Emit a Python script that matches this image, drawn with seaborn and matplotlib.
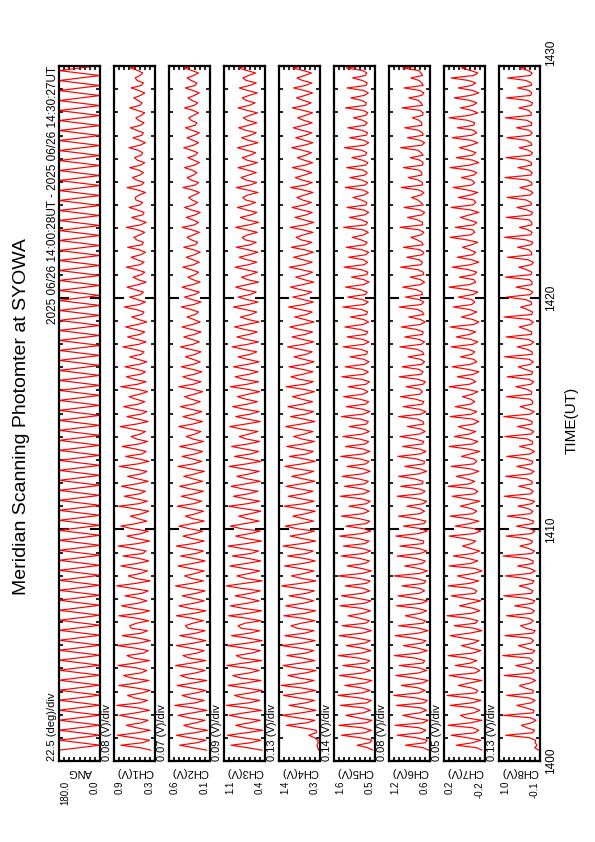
import numpy as np
import pandas as pd
import seaborn as sns
import matplotlib.pyplot as plt
from matplotlib.ticker import FixedLocator, MultipleLocator

# Record window (minutes after 14:00 UT)
t_start = 28 / 60
t_end = 30 + 27 / 60

title = 'Meridian Scanning Photomter at SYOWA'
subtitle = '2025 06/26 14:00:28UT - 2025 06/26 14:30:27UT'
time_ticks = [0, 10, 20, 30]
time_labels = ['1400', '1410', '1420', '1430']

names = ['ANG', 'CH1(V)', 'CH2(V)', 'CH3(V)', 'CH4(V)', 'CH5(V)', 'CH6(V)', 'CH7(V)', 'CH8(V)']
vmax = [180.0, 0.9, 0.6, 1.1, 1.4, 1.6, 1.2, 0.2, 1.0]
vmin = [0.0, 0.3, 0.1, 0.4, 0.3, 0.5, 0.6, -0.2, -0.1]
vmax_labels = ['180.0', '0.9', '0.6', '1.1', '1.4', '1.6', '1.2', '0.2', '1.0']
vmin_labels = ['0.0', '0.3', '0.1', '0.4', '0.3', '0.5', '0.6', '-0.2', '-0.1']
div_labels = ['22.5 (deg)/div', '0.08 (V)/div', '0.07 (V)/div', '0.09 (V)/div', '0.13 (V)/div',
              '0.14 (V)/div', '0.08 (V)/div', '0.05 (V)/div', '0.13 (V)/div']

# scan angle (deg) at each turn of the mirror
ang = [180, 0, 180, 0, 180, 0, 180, 0, 180, 0, 180, 0, 180, 0, 180, 0, 180, 0, 180, 0,
       180, 0, 180, 0, 180, 0, 180, 0, 180, 0, 180, 0, 180, 0, 180, 0, 180, 0, 180, 0,
       180, 0, 180, 0, 180, 0, 180, 0, 180, 0, 180, 0, 180, 0, 180, 0, 180, 0, 180, 0,
       180, 0, 180, 0, 180, 0, 180, 0, 180, 0, 180, 0, 180, 0, 180, 0, 180, 0, 180, 0,
       180, 0, 180, 0, 180, 0, 180, 0, 180, 0, 180, 0, 180, 0, 180, 0, 180, 0, 180, 0,
       180, 0, 180, 0, 180, 0, 180, 0, 180, 0, 180, 0, 180, 0, 180, 0, 180, 0, 180, 0,
       180, 0, 180, 0, 180, 0, 180, 0, 180, 0, 180, 0, 180, 0, 180, 0, 180, 0, 180, 0]

# channel readings in units of 0.01 V, four samples per scan
ch1 = [36, 52, 80, 48, 38, 61, 85, 55, 37, 57, 72, 50, 40, 63, 82, 58, 38, 55, 86, 52,
       41, 60, 70, 49, 37, 58, 83, 56, 39, 64, 76, 51, 42, 56, 84, 59, 38, 62, 71, 47,
       40, 59, 85, 54, 37, 54, 78, 50, 41, 65, 67, 57, 39, 57, 83, 52, 38, 61, 79, 55,
       42, 55, 74, 49, 40, 63, 86, 58, 37, 58, 69, 51, 41, 60, 80, 56, 39, 53, 77, 48,
       43, 62, 84, 55, 38, 57, 71, 50, 40, 64, 80, 58, 42, 55, 66, 49, 39, 60, 83, 54,
       41, 58, 75, 52, 44, 62, 79, 56, 40, 56, 70, 50, 42, 61, 82, 55, 39, 54, 73, 49,
       43, 59, 78, 53, 41, 57, 65, 51, 44, 63, 81, 57, 40, 55, 71, 50, 42, 60, 76, 54,
       45, 58, 68, 52, 41, 56, 80, 55, 43, 61, 72, 51, 44, 57, 74, 53, 42, 55, 67, 50,
       46, 60, 77, 54, 43, 57, 70, 52, 45, 59, 73, 55, 42, 54, 64, 49, 46, 58, 75, 53,
       44, 56, 67, 51, 47, 59, 71, 54, 43, 55, 62, 50, 45, 57, 72, 52, 46, 56, 65, 51,
       44, 53, 70, 49, 47, 57, 61, 52, 45, 55, 72, 51, 43, 54, 64, 48, 46, 56, 68, 52,
       48, 58, 59, 53, 44, 55, 71, 50, 46, 57, 63, 52, 47, 54, 67, 51, 45, 56, 60, 50,
       48, 55, 68, 52, 44, 53, 62, 49, 47, 57, 66, 51, 46, 54, 58, 50, 45, 56, 67, 52,
       49, 55, 61, 51, 45, 54, 65, 50, 47, 56, 59, 52, 48, 55, 66, 51, 46, 53, 62, 49]
ch2 = [14, 30, 47, 26, 15, 35, 51, 29, 13, 32, 42, 27, 16, 36, 49, 31, 14, 31, 53, 28,
       17, 34, 44, 27, 15, 33, 50, 30, 14, 37, 46, 28, 16, 31, 52, 32, 15, 35, 43, 26,
       17, 34, 51, 30, 15, 30, 47, 27, 16, 37, 40, 31, 18, 32, 51, 29, 15, 35, 48, 30,
       17, 31, 44, 27, 16, 36, 52, 32, 18, 33, 41, 28, 17, 34, 49, 31, 16, 30, 46, 27,
       18, 35, 51, 30, 17, 32, 43, 28, 19, 36, 48, 32, 17, 31, 40, 27, 18, 34, 50, 30,
       20, 33, 45, 29, 18, 35, 47, 31, 19, 31, 42, 28, 17, 34, 49, 30, 20, 32, 44, 28,
       19, 33, 47, 30, 18, 31, 39, 28, 21, 35, 48, 31, 19, 32, 43, 29, 20, 34, 46, 30,
       22, 33, 41, 29, 19, 31, 48, 30, 21, 34, 43, 29, 20, 32, 45, 30, 22, 31, 40, 28,
       21, 34, 46, 31, 23, 32, 42, 29, 21, 33, 44, 31, 22, 30, 38, 28, 24, 33, 45, 30,
       21, 32, 41, 29, 23, 34, 44, 31, 22, 31, 37, 28, 24, 33, 43, 30, 23, 31, 39, 29,
       22, 30, 42, 28, 25, 33, 38, 30, 23, 32, 44, 29, 24, 31, 39, 28, 22, 33, 41, 30,
       25, 32, 36, 29, 23, 31, 43, 28, 24, 33, 38, 30, 26, 32, 41, 29, 23, 30, 37, 28,
       25, 33, 42, 30, 24, 31, 38, 29, 23, 32, 40, 28, 26, 33, 36, 30, 24, 31, 41, 29,
       25, 32, 37, 29, 23, 31, 40, 28, 26, 33, 38, 30, 24, 32, 41, 29, 25, 31, 36, 28]
ch3 = [45, 70, 98, 64, 47, 78, 104, 72, 44, 73, 90, 66, 48, 80, 101, 75, 46, 72, 106, 68,
       49, 77, 92, 65, 45, 74, 103, 71, 47, 82, 95, 67, 50, 71, 105, 76, 46, 79, 89, 63,
       48, 75, 104, 70, 45, 69, 97, 66, 49, 81, 86, 74, 47, 72, 102, 68, 46, 78, 99, 71,
       50, 70, 91, 65, 48, 80, 106, 75, 45, 73, 88, 67, 49, 76, 100, 72, 47, 68, 96, 64,
       51, 79, 103, 71, 46, 72, 90, 66, 48, 81, 99, 74, 50, 70, 85, 65, 47, 76, 102, 70,
       49, 74, 94, 68, 52, 79, 98, 72, 48, 71, 88, 66, 50, 77, 101, 71, 47, 69, 92, 64,
       51, 75, 97, 69, 49, 72, 84, 67, 52, 80, 100, 73, 48, 70, 90, 65, 50, 76, 95, 70,
       53, 73, 87, 68, 49, 71, 99, 70, 51, 77, 91, 67, 52, 72, 94, 69, 50, 70, 86, 65,
       54, 76, 96, 70, 51, 72, 88, 67, 53, 75, 92, 71, 50, 69, 82, 64, 54, 74, 94, 69,
       52, 71, 86, 66, 55, 75, 90, 70, 51, 70, 80, 65, 53, 73, 91, 68, 54, 71, 84, 67,
       52, 69, 89, 65, 55, 74, 79, 69, 53, 71, 90, 67, 51, 70, 82, 64, 54, 72, 87, 68,
       56, 73, 78, 69, 52, 70, 89, 66, 54, 72, 81, 68, 55, 70, 86, 67, 53, 71, 79, 65,
       56, 72, 87, 68, 52, 69, 80, 65, 55, 73, 85, 68, 54, 70, 77, 66, 53, 71, 86, 67,
       57, 72, 79, 67, 53, 70, 84, 66, 55, 72, 78, 68, 56, 71, 85, 67, 54, 69, 80, 65]
ch4 = [34, 36, 38, 35, 36, 45, 60, 40, 40, 78, 120, 65, 44, 90, 131, 80, 41, 75, 113, 69,
       45, 88, 128, 76, 42, 80, 134, 72, 46, 86, 116, 70, 41, 93, 129, 81, 44, 76, 119, 68,
       47, 85, 132, 77, 43, 79, 124, 71, 46, 92, 108, 80, 44, 77, 127, 70, 42, 87, 122, 75,
       47, 74, 113, 67, 45, 91, 133, 82, 41, 80, 107, 72, 46, 84, 125, 76, 43, 72, 117, 66,
       48, 89, 129, 78, 42, 78, 110, 70, 45, 93, 123, 81, 47, 75, 103, 68, 43, 86, 126, 74,
       46, 82, 115, 73, 49, 87, 121, 79, 44, 76, 106, 69, 47, 90, 124, 78, 43, 73, 112, 66,
       48, 84, 119, 75, 45, 79, 101, 71, 49, 88, 122, 80, 44, 74, 109, 68, 47, 85, 116, 75,
       50, 80, 104, 72, 45, 76, 121, 70, 48, 86, 108, 76, 49, 78, 113, 71, 46, 74, 100, 67,
       51, 83, 117, 75, 47, 77, 105, 70, 50, 85, 111, 77, 46, 72, 98, 66, 51, 82, 114, 74,
       48, 75, 103, 69, 52, 84, 109, 76, 47, 73, 95, 67, 50, 80, 112, 73, 51, 76, 101, 70,
       48, 72, 107, 68, 52, 81, 94, 74, 49, 76, 110, 70, 47, 73, 97, 67, 51, 79, 105, 72,
       53, 77, 92, 71, 49, 74, 109, 69, 51, 78, 96, 72, 52, 75, 104, 70, 50, 73, 91, 68,
       53, 78, 106, 72, 49, 72, 95, 68, 52, 79, 102, 73, 51, 74, 90, 69, 50, 76, 104, 70,
       54, 75, 93, 70, 50, 73, 101, 69, 52, 77, 92, 71, 53, 75, 103, 70, 51, 72, 94, 68]
ch5 = [56, 70, 98, 64, 58, 90, 140, 78, 60, 84, 147, 74, 59, 96, 128, 82, 62, 80, 143, 72,
       60, 92, 149, 85, 63, 86, 131, 76, 59, 98, 145, 83, 62, 82, 136, 74, 64, 94, 148, 86,
       61, 85, 127, 77, 63, 99, 146, 84, 60, 83, 138, 75, 65, 91, 122, 82, 62, 87, 144, 78,
       61, 96, 140, 84, 64, 81, 130, 73, 63, 93, 149, 85, 60, 86, 125, 77, 65, 90, 141, 81,
       62, 84, 135, 76, 66, 95, 145, 86, 61, 82, 128, 74, 64, 92, 140, 83, 66, 80, 120, 73,
       63, 88, 143, 80, 65, 85, 132, 77, 68, 94, 138, 84, 63, 81, 125, 74, 66, 90, 142, 81,
       64, 83, 129, 76, 67, 92, 136, 83, 65, 80, 119, 73, 68, 89, 140, 81, 64, 84, 127, 75,
       67, 91, 134, 82, 69, 82, 122, 74, 65, 87, 139, 79, 68, 85, 130, 77, 66, 80, 117, 73,
       70, 88, 135, 80, 66, 83, 125, 75, 69, 90, 131, 82, 67, 81, 116, 73, 70, 86, 136, 79,
       68, 84, 123, 76, 71, 89, 129, 81, 66, 80, 113, 72, 69, 87, 133, 79, 70, 82, 121, 75,
       67, 85, 127, 77, 71, 88, 111, 80, 68, 82, 134, 75, 70, 86, 119, 78, 67, 81, 125, 74,
       72, 87, 109, 79, 68, 83, 130, 76, 70, 85, 117, 77, 71, 82, 126, 75, 69, 84, 112, 76,
       72, 86, 132, 78, 67, 81, 118, 74, 70, 85, 123, 77, 71, 83, 108, 75, 69, 82, 129, 76,
       73, 86, 115, 78, 68, 81, 125, 74, 71, 84, 110, 76, 72, 83, 127, 75, 70, 82, 113, 74]
ch6 = [62, 70, 96, 67, 64, 80, 108, 73, 66, 76, 111, 70, 63, 83, 100, 75, 65, 74, 109, 69,
       64, 81, 113, 76, 67, 77, 102, 71, 63, 84, 110, 77, 65, 75, 105, 70, 68, 82, 112, 76,
       64, 78, 99, 72, 66, 85, 111, 77, 63, 76, 106, 70, 67, 80, 96, 74, 65, 79, 109, 72,
       64, 83, 107, 76, 68, 75, 101, 69, 66, 81, 113, 75, 64, 77, 97, 71, 67, 80, 108, 74,
       65, 76, 104, 70, 69, 84, 110, 77, 64, 74, 99, 69, 66, 82, 106, 75, 68, 75, 94, 70,
       65, 79, 108, 73, 67, 77, 103, 71, 70, 83, 106, 76, 65, 75, 97, 69, 68, 80, 107, 74,
       66, 76, 100, 71, 69, 82, 104, 75, 67, 74, 93, 69, 70, 79, 106, 73, 66, 77, 99, 71,
       69, 81, 103, 75, 71, 75, 95, 70, 67, 78, 105, 73, 70, 77, 101, 72, 68, 74, 92, 69,
       71, 79, 104, 73, 68, 76, 97, 71, 70, 80, 102, 74, 67, 74, 91, 69, 71, 78, 105, 73,
       69, 76, 96, 71, 72, 80, 100, 74, 68, 74, 89, 69, 70, 78, 103, 73, 71, 76, 94, 71,
       69, 75, 99, 70, 72, 79, 88, 73, 69, 76, 104, 71, 71, 78, 93, 72, 68, 75, 98, 70,
       73, 78, 87, 73, 69, 76, 102, 71, 71, 77, 92, 72, 72, 76, 99, 71, 70, 75, 89, 70,
       73, 78, 103, 72, 68, 75, 93, 70, 71, 77, 97, 72, 72, 76, 86, 71, 70, 75, 101, 71,
       73, 77, 91, 72, 69, 75, 98, 70, 72, 76, 88, 71, 73, 77, 100, 72, 71, 75, 90, 70]
ch7 = [-17, -12, 8, -8, -16, -3, 13, -10, -14, -8, 16, -6, -17, -1, 4, -9, -15, -9, 14, -7,
       -16, -4, 17, -11, -13, -7, 6, -5, -17, 0, 15, -10, -15, -10, 9, -6, -12, -2, 16, -8,
       -16, -6, 3, -9, -14, 1, 14, -5, -17, -9, 10, -11, -13, -3, 17, -7, -15, -8, 5, -6,
       -16, -1, 13, -10, -12, -7, 16, -5, -14, -2, 7, -9, -17, -10, 15, -6, -13, -4, 11, -8,
       -15, -6, 2, -7, -11, 0, 15, -9, -16, -9, 9, -5, -14, -3, 14, -8, -12, -7, 4, -6,
       -15, -1, 12, -10, -13, -8, 16, -5, -10, -2, 8, -7, -14, -6, 13, -9, -12, -9, 3, -6,
       -15, -3, 15, -8, -13, -5, 10, -5, -11, -1, 6, -9, -14, -8, 14, -7, -12, -4, 9, -6,
       -10, -6, 2, -8, -13, -2, 15, -5, -11, -7, 7, -9, -14, -3, 12, -6, -12, -9, 4, -7,
       -10, -4, 13, -8, -13, -6, 8, -5, -11, -2, 14, -9, -14, -8, 3, -6, -12, -5, 11, -7,
       -10, -7, 6, -8, -13, -3, 15, -5, -11, -9, 5, -9, -12, -4, 12, -6, -14, -7, 7, -8,
       -11, -5, 2, -7, -13, -2, 14, -6, -10, -8, 9, -9, -12, -4, 4, -5, -14, -6, 13, -8,
       -11, -9, 6, -6, -13, -3, 11, -7, -10, -7, 3, -9, -12, -5, 14, -5, -14, -8, 8, -8,
       -11, -4, 5, -6, -13, -6, 12, -7, -12, -9, 7, -9, -10, -3, 15, -5, -13, -7, 4, -8,
       -12, -5, 10, -6, -14, -8, 6, -7, -11, -4, 13, -9, -13, -6, 3, -6, -12, -8, 9, -7]
ch8 = [-6, 4, -2, 3, 2, 18, 82, 10, 5, 25, 40, 12, 1, 15, 88, 8, 6, 28, 52, 14,
       3, 20, 79, 9, 8, 30, 45, 15, 2, 17, 86, 11, 5, 24, 55, 13, 9, 19, 90, 10,
       4, 27, 48, 14, 7, 16, 84, 9, 3, 29, 42, 15, 8, 21, 80, 12, 5, 18, 58, 10,
       4, 26, 87, 13, 9, 22, 46, 11, 6, 31, 83, 16, 3, 17, 50, 9, 8, 25, 89, 12,
       5, 20, 44, 14, 10, 28, 81, 13, 4, 18, 53, 10, 7, 27, 78, 15, 9, 21, 49, 12,
       5, 30, 86, 14, 8, 19, 47, 11, 11, 26, 82, 15, 6, 22, 52, 12, 9, 29, 79, 16,
       5, 18, 45, 10, 10, 24, 84, 14, 7, 20, 50, 12, 11, 28, 87, 15, 6, 23, 43, 11,
       9, 17, 80, 13, 12, 26, 55, 14, 7, 21, 78, 12, 10, 30, 48, 16, 8, 19, 85, 11,
       11, 25, 51, 14, 7, 22, 81, 13, 12, 27, 46, 15, 8, 20, 86, 12, 10, 24, 42, 13,
       13, 29, 79, 16, 9, 21, 54, 12, 11, 18, 83, 14, 12, 26, 47, 13, 8, 23, 77, 12,
       13, 20, 50, 14, 9, 28, 85, 15, 11, 22, 45, 12, 12, 19, 80, 14, 10, 25, 52, 13,
       14, 27, 78, 16, 9, 21, 44, 12, 12, 24, 84, 14, 11, 20, 49, 13, 13, 26, 81, 15,
       10, 22, 46, 12, 14, 28, 79, 16, 11, 19, 53, 13, 12, 25, 83, 14, 13, 21, 47, 13,
       10, 24, 80, 15, 12, 20, 50, 13, 14, 27, 77, 16, 11, 22, 45, 12, 13, 24, 82, 14]

traces = [np.array(ang, float)] + [np.array(c) / 100 for c in (ch1, ch2, ch3, ch4, ch5, ch6, ch7, ch8)]

sns.set_style('ticks')
plt.rcParams['font.family'] = ['Liberation Sans', 'DejaVu Sans']
plt.rcParams['text.color'] = 'black'

W, H = 595, 842
fig = plt.figure(figsize=(W / 100, H / 100), dpi=100)


def fx(px):
    return px / W


def fy(py):
    return 1 - py / H


top_px, bot_px = 66, 761
panel_w = 41

for i in range(9):
    left_px = 59 + 55 * i
    ax = fig.add_axes([fx(left_px), fy(bot_px), panel_w / W, (bot_px - top_px) / H])
    vals = traces[i]
    df = pd.DataFrame({'value': vals, 'time': np.linspace(t_start, t_end, len(vals))})
    sns.lineplot(data=df, x='value', y='time', sort=False, estimator=None, orient='y',
                 color='red', linewidth=0.85, ax=ax)
    ax.set_xlim(vmax[i], vmin[i])
    ax.set_ylim(0, 30)
    ax.set_xlabel('')
    ax.set_ylabel('')
    ax.xaxis.set_major_locator(FixedLocator(np.linspace(vmin[i], vmax[i], 9)[1:-1]))
    ax.yaxis.set_major_locator(FixedLocator(time_ticks))
    ax.yaxis.set_minor_locator(MultipleLocator(1))
    ax.tick_params(axis='both', which='both', direction='in', labelbottom=False, labelleft=False,
                   top=True, bottom=True, left=True, right=True, width=1.2, color='black')
    ax.tick_params(axis='x', length=3)
    ax.tick_params(axis='y', which='major', length=7, width=1.5)
    ax.tick_params(axis='y', which='minor', length=3)
    for s in ax.spines.values():
        s.set_linewidth(1.6)
        s.set_color('black')

    cx = left_px + panel_w / 2
    fig.text(fx(cx), fy(772), names[i], rotation=180, ha='center', va='center', fontsize=8)
    fig.text(fx(left_px + 1), fy(781), vmax_labels[i], rotation=90, ha='left', va='top', fontsize=7)
    fig.text(fx(left_px + panel_w), fy(781), vmin_labels[i], rotation=90, ha='right', va='top', fontsize=7)
    fig.text(fx(left_px - 7), fy(bot_px), div_labels[i], rotation=90, ha='center', va='bottom', fontsize=8)

# time labels to the right of the last panel
for t, lab in zip(time_ticks, time_labels):
    py = bot_px - t / 30 * (bot_px - top_px)
    fig.text(fx(551), fy(py), lab, rotation=90, ha='center',
             va='bottom' if t == 30 else 'center', fontsize=8.5)
fig.text(fx(572), fy(420), 'TIME(UT)', rotation=90, ha='center', va='center', fontsize=11)

fig.text(fx(53), fy(top_px), subtitle, rotation=90, ha='center', va='top', fontsize=8.5)
fig.text(fx(22), fy(417), title, rotation=90, ha='center', va='center', fontsize=14)

fig.savefig('out.png', dpi=100, facecolor='white')
